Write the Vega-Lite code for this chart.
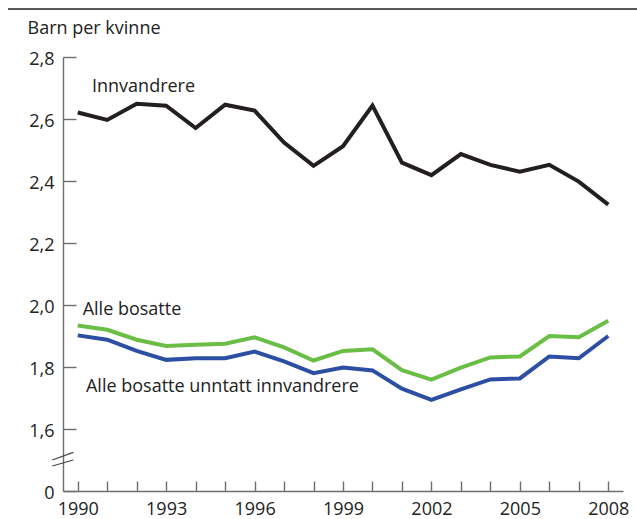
{
  "$schema": "https://vega.github.io/schema/vega-lite/v6.json",
  "width": 560,
  "height": 434,
  "autosize": "none",
  "padding": {"left": 63, "top": 57, "right": 14, "bottom": 28},
  "background": "white",
  "config": {
    "view": {"stroke": null},
    "font": "Open Sans",
    "axis": {"grid": false}
  },
  "resolve": {"axis": {"x": "independent"}},
  "data": {
    "values": [
      {"year": 1990, "series": "Innvandrere", "value": 2.621},
      {"year": 1991, "series": "Innvandrere", "value": 2.597},
      {"year": 1992, "series": "Innvandrere", "value": 2.649},
      {"year": 1993, "series": "Innvandrere", "value": 2.643},
      {"year": 1994, "series": "Innvandrere", "value": 2.571},
      {"year": 1995, "series": "Innvandrere", "value": 2.646},
      {"year": 1996, "series": "Innvandrere", "value": 2.627},
      {"year": 1997, "series": "Innvandrere", "value": 2.524},
      {"year": 1998, "series": "Innvandrere", "value": 2.449},
      {"year": 1999, "series": "Innvandrere", "value": 2.512},
      {"year": 2000, "series": "Innvandrere", "value": 2.643},
      {"year": 2001, "series": "Innvandrere", "value": 2.459},
      {"year": 2002, "series": "Innvandrere", "value": 2.419},
      {"year": 2003, "series": "Innvandrere", "value": 2.487},
      {"year": 2004, "series": "Innvandrere", "value": 2.452},
      {"year": 2005, "series": "Innvandrere", "value": 2.43},
      {"year": 2006, "series": "Innvandrere", "value": 2.452},
      {"year": 2007, "series": "Innvandrere", "value": 2.398},
      {"year": 2008, "series": "Innvandrere", "value": 2.324},
      {"year": 1990, "series": "Alle bosatte", "value": 1.934},
      {"year": 1991, "series": "Alle bosatte", "value": 1.92},
      {"year": 1992, "series": "Alle bosatte", "value": 1.888},
      {"year": 1993, "series": "Alle bosatte", "value": 1.868},
      {"year": 1994, "series": "Alle bosatte", "value": 1.872},
      {"year": 1995, "series": "Alle bosatte", "value": 1.875},
      {"year": 1996, "series": "Alle bosatte", "value": 1.896},
      {"year": 1997, "series": "Alle bosatte", "value": 1.863},
      {"year": 1998, "series": "Alle bosatte", "value": 1.821},
      {"year": 1999, "series": "Alle bosatte", "value": 1.852},
      {"year": 2000, "series": "Alle bosatte", "value": 1.857},
      {"year": 2001, "series": "Alle bosatte", "value": 1.79},
      {"year": 2002, "series": "Alle bosatte", "value": 1.759},
      {"year": 2003, "series": "Alle bosatte", "value": 1.798},
      {"year": 2004, "series": "Alle bosatte", "value": 1.831},
      {"year": 2005, "series": "Alle bosatte", "value": 1.834},
      {"year": 2006, "series": "Alle bosatte", "value": 1.9},
      {"year": 2007, "series": "Alle bosatte", "value": 1.896},
      {"year": 2008, "series": "Alle bosatte", "value": 1.949},
      {"year": 1990, "series": "Alle bosatte unntatt innvandrere", "value": 1.902},
      {"year": 1991, "series": "Alle bosatte unntatt innvandrere", "value": 1.888},
      {"year": 1992, "series": "Alle bosatte unntatt innvandrere", "value": 1.852},
      {"year": 1993, "series": "Alle bosatte unntatt innvandrere", "value": 1.823},
      {"year": 1994, "series": "Alle bosatte unntatt innvandrere", "value": 1.828},
      {"year": 1995, "series": "Alle bosatte unntatt innvandrere", "value": 1.828},
      {"year": 1996, "series": "Alle bosatte unntatt innvandrere", "value": 1.85},
      {"year": 1997, "series": "Alle bosatte unntatt innvandrere", "value": 1.818},
      {"year": 1998, "series": "Alle bosatte unntatt innvandrere", "value": 1.78},
      {"year": 1999, "series": "Alle bosatte unntatt innvandrere", "value": 1.798},
      {"year": 2000, "series": "Alle bosatte unntatt innvandrere", "value": 1.789},
      {"year": 2001, "series": "Alle bosatte unntatt innvandrere", "value": 1.73},
      {"year": 2002, "series": "Alle bosatte unntatt innvandrere", "value": 1.694},
      {"year": 2003, "series": "Alle bosatte unntatt innvandrere", "value": 1.728},
      {"year": 2004, "series": "Alle bosatte unntatt innvandrere", "value": 1.76},
      {"year": 2005, "series": "Alle bosatte unntatt innvandrere", "value": 1.763},
      {"year": 2006, "series": "Alle bosatte unntatt innvandrere", "value": 1.834},
      {"year": 2007, "series": "Alle bosatte unntatt innvandrere", "value": 1.828},
      {"year": 2008, "series": "Alle bosatte unntatt innvandrere", "value": 1.9}
    ]
  },
  "layer": [
    {
      "mark": {"type": "line", "strokeWidth": 4, "strokeJoin": "miter", "strokeCap": "butt"},
      "encoding": {
        "x": {
          "field": "year",
          "type": "quantitative",
          "scale": {"domain": [1989.5, 2008.5], "nice": false, "zero": false},
          "axis": {
            "orient": "bottom",
            "title": null,
            "values": [1990, 1991, 1992, 1993, 1994, 1995, 1996, 1997, 1998, 1999, 2000, 2001, 2002, 2003, 2004, 2005, 2006, 2007, 2008],
            "labels": false,
            "domainColor": "#6e6e6e",
            "domainWidth": 1.4,
            "tickColor": "#6e6e6e",
            "tickWidth": 1.4,
            "tickSize": -10
          }
        },
        "y": {
          "field": "value",
          "type": "quantitative",
          "scale": {"domain": [1.4, 2.8], "nice": false, "zero": false},
          "axis": {
            "title": "Barn per kvinne",
            "titleAngle": 0,
            "titleAlign": "left",
            "titleBaseline": "alphabetic",
            "titleX": -36,
            "titleY": -24,
            "titleFont": "Open Sans",
            "titleFontSize": 18,
            "titleFontWeight": "normal",
            "titleColor": "#222222",
            "values": [1.4, 1.6, 1.8, 2.0, 2.2, 2.4, 2.6, 2.8],
            "labelExpr": "datum.value < 1.5 ? '0' : replace(format(datum.value, '.1f'), '.', ',')",
            "labelFont": "Open Sans",
            "labelFontSize": 18,
            "labelColor": "#222222",
            "labelPadding": 22,
            "labelOffset": 2,
            "labelFlush": false,
            "labelOverlap": false,
            "domainColor": "#6e6e6e",
            "domainWidth": 1.4,
            "tickColor": "#6e6e6e",
            "tickWidth": 1.4,
            "tickSize": -13
          }
        },
        "color": {
          "field": "series",
          "type": "nominal",
          "scale": {
            "domain": ["Innvandrere", "Alle bosatte", "Alle bosatte unntatt innvandrere"],
            "range": ["#231f20", "#6abd45", "#2c4fa3"]
          },
          "legend": null
        }
      }
    },
    {
      "data": {"values": [{}]},
      "mark": {"type": "text", "text": "Innvandrere", "align": "left", "baseline": "middle", "font": "Open Sans", "fontSize": 18, "color": "#222222"},
      "encoding": {
        "x": {
          "datum": 1990.484,
          "type": "quantitative",
          "axis": {
            "orient": "bottom",
            "title": null,
            "values": [1990, 1993, 1996, 1999, 2002, 2005, 2008],
            "format": "d",
            "ticks": false,
            "domain": false,
            "labelFont": "Open Sans",
            "labelFontSize": 18,
            "labelColor": "#222222",
            "labelPadding": 9,
            "labelBaseline": "top",
            "labelFlush": false,
            "labelOverlap": false
          }
        },
        "y": {"datum": 2.703, "type": "quantitative"}
      }
    },
    {
      "data": {"values": [{}]},
      "mark": {"type": "text", "text": "Alle bosatte", "align": "left", "baseline": "middle", "font": "Open Sans", "fontSize": 18, "color": "#222222"},
      "encoding": {"x": {"datum": 1990.168, "type": "quantitative", "axis": null}, "y": {"datum": 1.984, "type": "quantitative"}}
    },
    {
      "data": {"values": [{}]},
      "mark": {"type": "text", "text": "Alle bosatte unntatt innvandrere", "align": "left", "baseline": "middle", "font": "Open Sans", "fontSize": 18, "color": "#222222"},
      "encoding": {"x": {"datum": 1990.28, "type": "quantitative", "axis": null}, "y": {"datum": 1.737, "type": "quantitative"}}
    },
    {
      "data": {"values": [{}]},
      "mark": {"type": "rule", "color": "#222222", "strokeWidth": 1.4},
      "encoding": {"x": {"datum": 1987.634, "type": "quantitative", "axis": null}, "x2": {"datum": 2008.975}, "y": {"datum": 2.9548, "type": "quantitative"}}
    },
    {
      "data": {"values": [{}]},
      "mark": {"type": "rule", "color": "#444444", "strokeWidth": 1.2},
      "encoding": {"x": {"datum": 1989.137, "type": "quantitative", "axis": null}, "x2": {"datum": 1989.849}, "y": {"datum": 1.5, "type": "quantitative"}, "y2": {"datum": 1.5248}}
    },
    {
      "data": {"values": [{}]},
      "mark": {"type": "rule", "color": "#444444", "strokeWidth": 1.2},
      "encoding": {"x": {"datum": 1989.137, "type": "quantitative", "axis": null}, "x2": {"datum": 1989.849}, "y": {"datum": 1.4806, "type": "quantitative"}, "y2": {"datum": 1.5}}
    }
  ]
}
